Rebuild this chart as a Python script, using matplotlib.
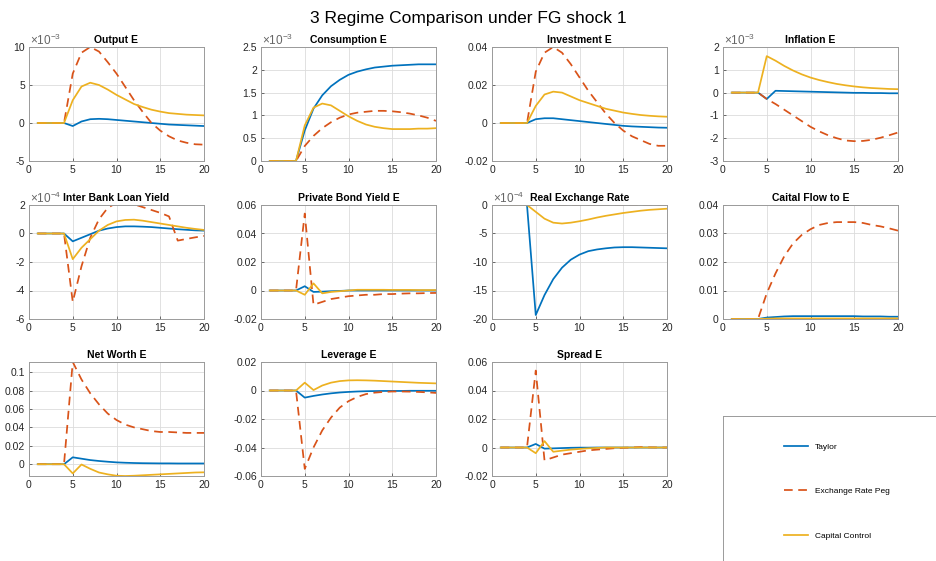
import matplotlib
matplotlib.use('Agg')
import matplotlib.pyplot as plt
from matplotlib.ticker import FuncFormatter
import numpy as np

t = list(range(1, 21))
regimes = ['Taylor', 'Exchange Rate Peg', 'Capital Control']

# values, in the units shown on each axis
output_e = {
    'Taylor': [0, 0, 0, 0, -0.4, 0.2, 0.5, 0.55, 0.5, 0.4, 0.3, 0.2, 0.1, 0.0, -0.1, -0.2, -0.25, -0.3, -0.35, -0.4],
    'Exchange Rate Peg': [0, 0, 0, 0, 6.5, 9.25, 10.0, 9.4, 8.0, 6.5, 4.75, 3.0, 1.45, 0.0, -1.0, -1.75, -2.3, -2.6, -2.8, -2.85],
    'Capital Control': [0, 0, 0, 0, 3.0, 4.8, 5.3, 5.0, 4.4, 3.7, 3.1, 2.5, 2.1, 1.75, 1.5, 1.3, 1.2, 1.1, 1.05, 1.0],
}
consumption_e = {
    'Taylor': [0, 0, 0, 0, 0.67, 1.15, 1.44, 1.64, 1.78, 1.89, 1.96, 2.01, 2.05, 2.07, 2.09, 2.1, 2.11, 2.12, 2.12, 2.12],
    'Exchange Rate Peg': [0, 0, 0, 0, 0.33, 0.55, 0.72, 0.85, 0.95, 1.02, 1.06, 1.08, 1.1, 1.1, 1.09, 1.07, 1.04, 1.0, 0.95, 0.88],
    'Capital Control': [0, 0, 0, 0, 0.78, 1.17, 1.26, 1.22, 1.1, 0.98, 0.88, 0.8, 0.75, 0.72, 0.7, 0.7, 0.7, 0.71, 0.71, 0.72],
}
investment_e = {
    'Taylor': [0, 0, 0, 0, 0.002, 0.0025, 0.0025, 0.002, 0.0015, 0.001, 0.0005, 0.0, -0.0005, -0.001, -0.0015, -0.0018, -0.002, -0.0022, -0.0024, -0.0025],
    'Exchange Rate Peg': [0, 0, 0, 0, 0.027, 0.037, 0.040, 0.037, 0.031, 0.024, 0.017, 0.011, 0.005, 0.0, -0.004, -0.007, -0.009, -0.011, -0.012, -0.012],
    'Capital Control': [0, 0, 0, 0, 0.009, 0.015, 0.0165, 0.016, 0.014, 0.012, 0.0105, 0.009, 0.0075, 0.0065, 0.0055, 0.0048, 0.0042, 0.0038, 0.0035, 0.0033],
}
inflation_e = {
    'Taylor': [0, 0, 0, 0, -0.28, 0.08, 0.07, 0.06, 0.05, 0.04, 0.03, 0.02, 0.01, 0.0, -0.01, -0.01, -0.02, -0.02, -0.03, -0.03],
    'Exchange Rate Peg': [0, 0, 0, 0, -0.28, -0.5, -0.75, -1.0, -1.25, -1.5, -1.7, -1.87, -2.0, -2.1, -2.13, -2.12, -2.07, -1.98, -1.87, -1.75],
    'Capital Control': [0, 0, 0, 0, 1.6, 1.4, 1.17, 0.97, 0.8, 0.66, 0.55, 0.46, 0.38, 0.32, 0.27, 0.23, 0.2, 0.18, 0.16, 0.15],
}
interbank_yield = {
    'Taylor': [0, 0, 0, 0, -0.55, -0.3, -0.05, 0.2, 0.35, 0.45, 0.5, 0.5, 0.48, 0.45, 0.4, 0.35, 0.3, 0.26, 0.22, 0.2],
    'Exchange Rate Peg': [0, 0, 0, 0, -4.8, -2.3, -0.3, 1.0, 1.8, 2.15, 2.2, 2.05, 1.85, 1.65, 1.45, 1.2, -0.5, -0.38, -0.27, -0.17],
    'Capital Control': [0, 0, 0, 0, -1.8, -1.0, -0.4, 0.2, 0.6, 0.85, 0.95, 0.97, 0.9, 0.8, 0.7, 0.6, 0.5, 0.4, 0.32, 0.25],
}
bond_yield_e = {
    'Taylor': [0, 0, 0, 0, 0.003, -0.001, -0.0008, -0.0005, -0.0003, 0, 0, 0, 0, 0, 0, 0, 0, 0, 0, 0],
    'Exchange Rate Peg': [0, 0, 0, 0, 0.054, -0.010, -0.008, -0.006, -0.005, -0.004, -0.0035, -0.003, -0.003, -0.0025, -0.0025, -0.0022, -0.002, -0.002, -0.0018, -0.0017],
    'Capital Control': [0, 0, 0, 0, -0.003, 0.005, -0.002, -0.001, -0.0005, 0.0, 0.0005, 0.0005, 0.0005, 0.0005, 0.0004, 0.0004, 0.0004, 0.0003, 0.0003, 0.0003],
}
real_exchange = {
    'Taylor': [0, 0, 0, 0, -19.3, -15.8, -13.0, -11.0, -9.6, -8.7, -8.1, -7.8, -7.6, -7.45, -7.4, -7.4, -7.45, -7.5, -7.55, -7.6],
    'Exchange Rate Peg': [0] * 20,
    'Capital Control': [0, 0, 0, 0, -1.2, -2.4, -3.1, -3.25, -3.1, -2.85, -2.55, -2.2, -1.9, -1.65, -1.4, -1.2, -1.0, -0.85, -0.75, -0.65],
}
capital_flow = {
    'Taylor': [0, 0, 0, 0, 0.0005, 0.0007, 0.0009, 0.001, 0.001, 0.001, 0.001, 0.001, 0.001, 0.001, 0.001, 0.0009, 0.0009, 0.0009, 0.0008, 0.0008],
    'Exchange Rate Peg': [0, 0, 0, 0, 0.009, 0.016, 0.022, 0.0265, 0.0295, 0.0315, 0.033, 0.0337, 0.034, 0.034, 0.034, 0.0337, 0.033, 0.0325, 0.0318, 0.031],
    'Capital Control': [0, 0, 0, 0, 0.0001, 0.0002, 0.0002, 0.0002, 0.0002, 0.0002, 0.0002, 0.0002, 0.0002, 0.0002, 0.0002, 0.0002, 0.0002, 0.0002, 0.0002, 0.0002],
}
net_worth = {
    'Taylor': [0, 0, 0, 0, 0.0075, 0.006, 0.0045, 0.0035, 0.0027, 0.002, 0.0016, 0.0013, 0.0011, 0.001, 0.0009, 0.0009, 0.0008, 0.0008, 0.0008, 0.0008],
    'Exchange Rate Peg': [0, 0, 0, 0, 0.111, 0.092, 0.077, 0.065, 0.055, 0.048, 0.043, 0.04, 0.038, 0.036, 0.035, 0.035, 0.0345, 0.034, 0.034, 0.034],
    'Capital Control': [0, 0, 0, 0, -0.010, -0.0003, -0.005, -0.009, -0.011, -0.0125, -0.0128, -0.0125, -0.012, -0.0115, -0.011, -0.0105, -0.010, -0.0095, -0.009, -0.0088],
}
leverage_e = {
    'Taylor': [0, 0, 0, 0, -0.005, -0.0038, -0.0028, -0.002, -0.0014, -0.001, -0.0007, -0.0005, -0.0004, -0.0003, -0.0003, -0.0003, -0.0002, -0.0002, -0.0002, -0.0002],
    'Exchange Rate Peg': [0, 0, 0, 0, -0.055, -0.04, -0.028, -0.019, -0.012, -0.0075, -0.0045, -0.0025, -0.0015, -0.001, -0.0007, -0.0007, -0.0008, -0.001, -0.0013, -0.0017],
    'Capital Control': [0, 0, 0, 0, 0.0055, 0.0003, 0.0035, 0.0055, 0.0066, 0.0071, 0.0072, 0.0071, 0.0069, 0.0066, 0.0063, 0.006, 0.0057, 0.0054, 0.0052, 0.005],
}
spread_e = {
    'Taylor': [0, 0, 0, 0, 0.0025, -0.0008, -0.0006, -0.0004, -0.0002, -0.0001, -0.0001, 0, 0, 0, 0, 0, 0, 0, 0, 0],
    'Exchange Rate Peg': [0, 0, 0, 0, 0.054, -0.009, -0.007, -0.005, -0.004, -0.003, -0.002, -0.0015, -0.001, -0.0005, -0.0002, 0, 0.0003, 0.0001, 0, 0],
    'Capital Control': [0, 0, 0, 0, -0.004, 0.0045, -0.003, -0.0022, -0.0015, -0.001, -0.0006, -0.0003, 0, 0, 0, 0, 0, 0, 0, 0],
}

# (title, data, scale, ylim in axis units, yticks in axis units)
panels = [
    ('Output E', output_e, 1e-3, (-5, 10), [-5, 0, 5, 10]),
    ('Consumption E', consumption_e, 1e-3, (0, 2.5), [0, 0.5, 1, 1.5, 2, 2.5]),
    ('Investment E', investment_e, 1, (-0.02, 0.04), [-0.02, 0, 0.02, 0.04]),
    ('Inflation E', inflation_e, 1e-3, (-3, 2), [-3, -2, -1, 0, 1, 2]),
    ('Inter Bank Loan Yield', interbank_yield, 1e-4, (-6, 2), [-6, -4, -2, 0, 2]),
    ('Private Bond Yield E', bond_yield_e, 1, (-0.02, 0.06), [-0.02, 0, 0.02, 0.04, 0.06]),
    ('Real Exchange Rate', real_exchange, 1e-4, (-20, 0), [-20, -15, -10, -5, 0]),
    ('Caital Flow to E', capital_flow, 1, (0, 0.04), [0, 0.01, 0.02, 0.03, 0.04]),
    ('Net Worth E', net_worth, 1, (-0.0128, 0.111), [0, 0.02, 0.04, 0.06, 0.08, 0.1]),
    ('Leverage E', leverage_e, 1, (-0.06, 0.02), [-0.06, -0.04, -0.02, 0, 0.02]),
    ('Spread E', spread_e, 1, (-0.02, 0.06), [-0.02, 0, 0.02, 0.04, 0.06]),
]
exponents = {1e-3: '-3', 1e-4: '-4'}

colors = {'Taylor': '#0072BD', 'Exchange Rate Peg': '#D95319', 'Capital Control': '#EDB120'}
styles = {'Taylor': '-', 'Exchange Rate Peg': '--', 'Capital Control': '-'}

plt.rcParams.update({'font.size': 7.5, 'font.family': ['Liberation Sans', 'DejaVu Sans'],
                     'axes.unicode_minus': False, 'mathtext.fontset': 'custom',
                     'mathtext.rm': 'Liberation Sans', 'mathtext.it': 'Liberation Sans:italic'})
fig = plt.figure(figsize=(9.36, 5.61), dpi=100)
W, H = 936.0, 561.0
col_left = [29, 261, 492, 723]
row_top = [47, 205, 362]
ax_w, ax_h = 175, 114

handles = []
for k, (title, data, scale, ylim, yticks) in enumerate(panels):
    r, c = divmod(k, 4)
    ax = fig.add_axes([col_left[c] / W, 1 - (row_top[r] + ax_h) / H, ax_w / W, ax_h / H])
    for name in regimes:
        vals = np.array(data[name]) * scale
        if styles[name] == '--':
            ln, = ax.plot(t, vals, color=colors[name], lw=1.25, dashes=(5, 3.2), label=name)
        else:
            ln, = ax.plot(t, vals, color=colors[name], lw=1.25, label=name)
        if k == 0:
            handles.append(ln)
    ax.set_xlim(0, 20)
    ax.set_xticks([0, 5, 10, 15, 20])
    ax.set_ylim(ylim[0] * scale, ylim[1] * scale)
    ax.set_yticks([v * scale for v in yticks])
    ax.yaxis.set_major_formatter(FuncFormatter(lambda v, p, s=scale: '%g' % round(v / s, 6)))
    ax.grid(True, color='#dcdcdc', lw=0.6)
    ax.set_axisbelow(True)
    for sp in ax.spines.values():
        sp.set_color('#9a9a9a')
        sp.set_linewidth(0.7)
    ax.tick_params(direction='in', length=2.5, width=0.6, color='#555555', labelcolor='#262626', pad=3)
    ax.set_title(title, fontsize=7.5, fontweight='bold', pad=3)
    if scale != 1:
        ax.text(0.005, 0.995, r'$\times 10^{%s}$' % exponents[scale], transform=ax.transAxes,
                fontsize=8.5, color='#666666', ha='left', va='bottom')

fig.suptitle('3 Regime Comparison under FG shock 1', x=0.5, y=1 - 19 / H, va='center', fontsize=12.5)

# legend box, running off the page as in the reference
lax = fig.add_axes([723 / W, -0.15, 0.3, 0.15 + 1 - 416 / H])
lax.set_xticks([])
lax.set_yticks([])
for sp in lax.spines.values():
    sp.set_color('#9a9a9a')
    sp.set_linewidth(0.7)
fig.legend(handles=handles, labels=regimes, loc='upper left', bbox_to_anchor=(784 / W, 1 - 443 / H),
           frameon=False, fontsize=6, handlelength=2.9, handletextpad=0.85, labelspacing=4.4,
           borderpad=0, borderaxespad=0)

plt.savefig('out.png', dpi=100)
